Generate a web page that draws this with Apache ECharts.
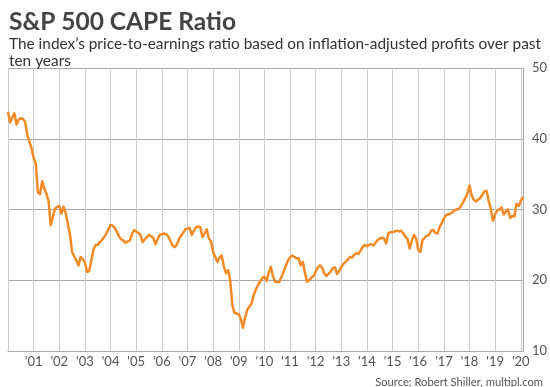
<!DOCTYPE html>
<html>
<head>
<meta charset="utf-8">
<script src="https://cdn.jsdelivr.net/npm/echarts@6/dist/echarts.min.js"></script>
<style>
html,body{margin:0;padding:0;background:#fff;}
#chart{width:550px;height:387px;}
</style>
</head>
<body>
<div id="chart"></div>
<script>
// Monthly CAPE values (Jan..Dec of each year)
const cape2000 = [43.8, 42.3, 43.0, 43.6, 42.0, 42.7, 42.9, 42.8, 42.4, 40.6, 39.6, 38.7];
const cape2001 = [37.3, 36.5, 32.4, 32.2, 34.0, 33.0, 32.2, 31.2, 27.8, 28.9, 30.1, 30.4];
const cape2002 = [30.5, 29.4, 30.4, 29.5, 28.0, 26.5, 24.0, 23.4, 22.8, 22.1, 23.3, 23.0];
const cape2003 = [22.5, 21.2, 21.3, 22.8, 24.3, 25.0, 25.0, 25.4, 25.7, 26.1, 26.6, 27.2];
const cape2004 = [27.8, 27.7, 27.4, 26.8, 26.2, 25.8, 25.6, 25.3, 25.5, 25.6, 26.5, 27.1];
const cape2005 = [26.9, 26.7, 26.4, 25.4, 25.8, 26.1, 26.4, 26.2, 26.0, 25.1, 25.8, 26.4];
const cape2006 = [26.5, 26.6, 26.5, 26.2, 25.6, 24.9, 24.7, 25.0, 25.8, 26.3, 26.7, 27.2];
const cape2007 = [27.3, 27.4, 26.4, 27.0, 27.5, 27.6, 27.5, 26.1, 26.6, 27.2, 25.9, 25.5];
const cape2008 = [24.0, 23.3, 22.6, 23.2, 23.5, 22.0, 21.0, 21.4, 20.0, 16.5, 15.4, 15.3];
const cape2009 = [15.2, 14.5, 13.3, 14.8, 15.8, 16.3, 16.7, 17.9, 18.7, 19.3, 19.8, 20.3];
const cape2010 = [20.5, 19.9, 21.0, 21.9, 20.6, 19.8, 19.7, 19.8, 20.5, 21.2, 22.0, 22.8];
const cape2011 = [23.2, 23.5, 23.3, 23.1, 23.1, 22.1, 22.6, 21.0, 19.8, 20.0, 20.4, 20.6];
const cape2012 = [21.2, 21.8, 22.1, 21.8, 21.0, 20.6, 20.9, 21.2, 21.7, 21.8, 20.9, 21.3];
const cape2013 = [21.9, 22.3, 22.6, 22.9, 23.3, 23.2, 23.6, 23.8, 23.7, 24.2, 24.7, 25.0];
const cape2014 = [24.8, 25.0, 25.1, 24.9, 25.3, 25.7, 25.9, 26.0, 25.9, 25.2, 26.6, 26.8];
const cape2015 = [26.8, 26.9, 27.0, 26.9, 27.0, 26.6, 26.2, 25.8, 24.5, 25.6, 26.4, 25.9];
const cape2016 = [24.3, 24.0, 25.7, 26.0, 26.3, 26.4, 27.0, 27.1, 26.7, 26.6, 27.5, 28.1];
const cape2017 = [28.7, 29.2, 29.3, 29.4, 29.6, 29.9, 30.0, 30.1, 30.5, 31.0, 31.6, 32.2];
const cape2018 = [33.4, 32.0, 31.4, 31.1, 31.4, 31.6, 32.1, 32.6, 32.6, 31.2, 30.0, 28.4];
const cape2019 = [29.3, 29.9, 30.0, 30.3, 29.3, 29.7, 30.0, 28.8, 29.1, 29.0, 30.8, 30.5];
const cape2020 = [31.2, 31.8];

const startYear = 2000;
const xTickLabels = ["'01","'02","'03","'04","'05","'06","'07","'08","'09","'10",
                     "'11","'12","'13","'14","'15","'16","'17","'18","'19","'20"];
const yTicks = [10, 20, 30, 40, 50];

const allValues = [].concat(cape2000, cape2001, cape2002, cape2003, cape2004, cape2005,
  cape2006, cape2007, cape2008, cape2009, cape2010, cape2011, cape2012, cape2013,
  cape2014, cape2015, cape2016, cape2017, cape2018, cape2019, cape2020);
const seriesData = allValues.map((v, i) => [startYear + i / 12, v]);

const chart = echarts.init(document.getElementById('chart'), null, {renderer: 'canvas'});
const FONT = 'Lato';
chart.setOption({
  animation: false,
  backgroundColor: '#ffffff',
  title: [
    {
      text: 'S&P 500 CAPE Ratio',
      left: 4, top: 4,
      textStyle: {fontFamily: FONT, fontSize: 24.5, fontWeight: 'bold', color: '#444444', lineHeight: 26}
    },
    {
      text: 'The index\u2019s price-to-earnings ratio based on inflation-adjusted profits over past\nten years',
      left: 4, top: 31,
      textStyle: {fontFamily: FONT, fontSize: 15.4, fontWeight: 'normal', color: '#333333', lineHeight: 17}
    },
    {
      text: 'Source: Robert Shiller, multipl.com',
      right: 2, top: 370,
      textStyle: {fontFamily: FONT, fontSize: 11.2, fontWeight: 'normal', color: '#555555', lineHeight: 14}
    }
  ],
  grid: {left: 8, right: 27, top: 68, bottom: 36, containLabel: false},
  xAxis: {
    type: 'value',
    min: startYear,
    max: 2020 + 1 / 12,
    interval: 1,
    axisLine: {show: true, onZero: false, lineStyle: {color: '#aaaaaa', width: 1}},
    axisTick: {show: false},
    splitLine: {show: true, lineStyle: {color: '#cccccc', width: 1}},
    axisLabel: {
      margin: 4,
      fontFamily: FONT, fontSize: 13, color: '#555555',
      showMaxLabel: false, showMinLabel: false,
      formatter: function (v) {
        const r = Math.round(v);
        if (Math.abs(v - r) > 1e-6) return '';
        const idx = r - 2001;
        return (idx >= 0 && idx < xTickLabels.length) ? xTickLabels[idx] : '';
      }
    }
  },
  yAxis: {
    type: 'value',
    position: 'right',
    min: yTicks[0],
    max: yTicks[yTicks.length - 1],
    interval: 10,
    axisLine: {show: true, onZero: false, lineStyle: {color: '#aaaaaa', width: 1}},
    axisTick: {show: false},
    splitLine: {show: true, lineStyle: {color: '#a9a9a9', width: 1}},
    axisLabel: {margin: 9, fontFamily: FONT, fontSize: 13, color: '#555555'}
  },
  series: [{
    type: 'line',
    z: 3,
    data: seriesData,
    symbol: 'none',
    smooth: false,
    lineStyle: {color: '#f28b25', width: 2.5, join: 'round'},
    clip: false
  }]
});
</script>
</body>
</html>
